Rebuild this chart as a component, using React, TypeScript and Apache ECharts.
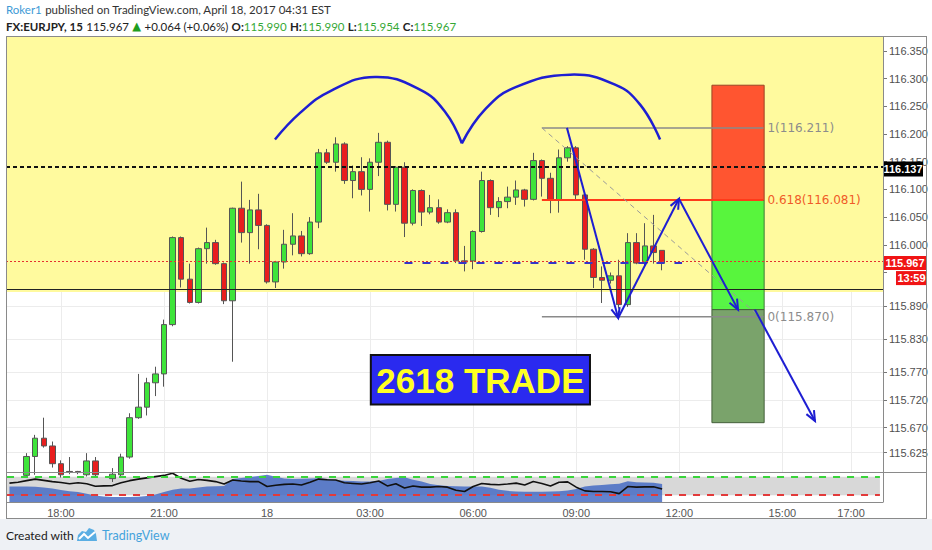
import React, { useEffect, useRef } from "react";
import * as echarts from "echarts";

// 15-minute bars, first bar Apr 17 16:30 (x axis in hours since Apr 17 00:00)
const firstBarHour = 16.5;
const barHours = 0.25;

const opens = [
  115.572, 115.578, 115.584, 115.618, 115.651, 115.637, 115.605, 115.591, 115.591, 115.585,
  115.61, 115.584, 115.578, 115.585, 115.617, 115.688, 115.707, 115.751, 115.767, 115.856,
  116.013, 115.938, 115.896, 115.993, 116.004, 115.966, 115.899, 116.066, 116.022, 116.063,
  116.035, 115.933, 115.969, 116.001, 116.016, 115.984, 116.041, 116.166, 116.149, 116.182,
  116.116, 116.132, 116.1, 116.149, 116.185, 116.073, 116.14, 116.039, 116.098, 116.059,
  116.067, 116.041, 116.058, 115.971, 115.971, 116.024, 116.116, 116.067, 116.078, 116.086,
  116.099, 116.082, 116.152, 116.12, 116.081, 116.157, 116.175, 116.09, 115.992, 115.941,
  115.936, 115.944, 115.892, 116.004, 115.967, 115.998, 115.99,
];
const closes = [
  115.578, 115.584, 115.618, 115.651, 115.637, 115.605, 115.585, 115.59, 115.589, 115.61,
  115.585, 115.578, 115.586, 115.617, 115.688, 115.707, 115.751, 115.767, 115.856, 116.013,
  115.938, 115.896, 115.993, 116.004, 115.966, 115.899, 116.066, 116.022, 116.063, 116.035,
  115.933, 115.969, 116.001, 116.016, 115.984, 116.041, 116.166, 116.149, 116.182, 116.116,
  116.132, 116.1, 116.149, 116.185, 116.073, 116.14, 116.039, 116.098, 116.059, 116.067,
  116.041, 116.058, 115.971, 115.969, 116.024, 116.116, 116.067, 116.078, 116.086, 116.099,
  116.082, 116.152, 116.12, 116.081, 116.157, 116.175, 116.09, 115.992, 115.941, 115.936,
  115.944, 115.892, 116.004, 115.967, 115.998, 115.986, 115.967,
];
const lows = [
  115.566, 115.574, 115.58, 115.585, 115.634, 115.598, 115.58, 115.586, 115.586, 115.582,
  115.582, 115.57, 115.572, 115.582, 115.614, 115.686, 115.692, 115.727, 115.744, 115.853,
  115.923, 115.894, 115.894, 115.966, 115.964, 115.893, 115.789, 116.004, 115.966, 115.992,
  115.93, 115.922, 115.957, 115.981, 115.979, 115.982, 116.03, 116.146, 116.132, 116.11,
  116.084, 116.089, 116.06, 116.124, 116.062, 116.06, 116.014, 116.035, 116.034, 116.055,
  116.038, 116.039, 115.967, 115.952, 115.956, 116.022, 116.054, 116.05, 116.066, 116.072,
  116.069, 116.08, 116.087, 116.057, 116.058, 116.15, 116.081, 115.973, 115.922, 115.895,
  115.93, 115.885, 115.888, 115.965, 115.96, 115.966, 115.954,
];
const highs = [
  115.584, 115.588, 115.624, 115.657, 115.688, 115.645, 115.611, 115.617, 115.592, 115.624,
  115.617, 115.588, 115.597, 115.623, 115.696, 115.767, 115.76, 115.78, 115.865, 116.015,
  116.015, 115.966, 115.995, 116.031, 116.009, 115.968, 116.067, 116.114, 116.081, 116.092,
  116.037, 115.971, 116.027, 116.057, 116.025, 116.05, 116.173, 116.173, 116.194, 116.185,
  116.143, 116.158, 116.156, 116.202, 116.188, 116.142, 116.149, 116.1, 116.1, 116.09,
  116.082, 116.064, 116.064, 115.998, 116.026, 116.132, 116.118, 116.086, 116.105, 116.116,
  116.101, 116.166, 116.154, 116.13, 116.172, 116.178, 116.178, 116.092, 115.994, 115.961,
  115.95, 115.973, 116.021, 116.021, 116.039, 116.054, 115.99,
];

// lower pane oscillator
const oscLine = [
  59, 62, 67, 72, 68, 64, 61, 57, 60, 57,
  49, 50, 51, 60, 67, 72, 76, 80, 84, 91,
  75, 65, 71, 68, 64, 56, 69, 66, 64, 64,
  48, 52, 55, 56, 53, 62, 72, 70, 69, 60,
  58, 56, 60, 66, 50, 57, 43, 50, 46, 46,
  48, 46, 36, 32, 48, 58, 55, 54, 56, 59,
  53, 64, 58, 50, 62, 63, 46, 34, 32, 32,
  31, 25, 48, 46, 47, 47, 40,
];
const oscArea = [
  48, 48, 48, 47, 45, 42, 37, 33, 30, 25,
  19, 16, 14, 14, 14, 15, 17, 22, 30, 38,
  42, 42, 45, 48, 49, 50, 72, 76, 79, 82,
  86, 80, 74, 72, 73, 74, 75, 72, 69, 67,
  66, 64, 64, 66, 72, 76, 78, 70, 64, 56,
  52, 50, 49, 48, 48, 48, 44, 38, 34, 32,
  31, 31, 31, 32, 33, 35, 40, 48, 51, 53,
  55, 57, 65, 62, 61, 60, 56,
];
const oscUpper = 80;
const oscLower = 20;

const priceTicks = [115.625, 115.67, 115.72, 115.77, 115.83, 115.89, 115.95, 116.0, 116.05, 116.1, 116.15, 116.2, 116.25, 116.3, 116.35];
const priceLabels = [115.625, 115.67, 115.72, 115.77, 115.83, 115.89, 116.0, 116.05, 116.1, 116.15, 116.2, 116.25, 116.3, 116.35];
const timeTicks = [18, 21, 24, 27, 30, 33, 36, 39, 41];
const timeLabels = ["18:00", "21:00", "18", "03:00", "06:00", "09:00", "12:00", "15:00", "17:00"];

const lastPrice = 115.967;
const countdown = "13:59";
const resistance = 116.137;
const zoneFloor = 115.915;

// drawings, in (hour, price)
const fibLevels = [
  { ratio: "1", price: 116.211 },
  { ratio: "0.618", price: 116.081 },
  { ratio: "0", price: 115.87 },
];
const fibFrom = 32.0;
const fibTo = 38.45;
const fibDiagEnd = 38.35;
const arcLeft = [[24.23, 116.19], [24.96, 116.238], [25.83, 116.277], [27.14, 116.303], [28.45, 116.28], [29.18, 116.24], [29.67, 116.183]];
const arcRight = [[29.67, 116.183], [30.34, 116.244], [31.22, 116.284], [32.82, 116.307], [34.13, 116.289], [34.86, 116.253], [35.44, 116.19]];
const arrowLegs = [
  [32.73, 116.211, 34.22, 115.868],
  [34.22, 115.868, 35.99, 116.083],
  [35.99, 116.083, 37.71, 115.883],
  [38.2, 115.883, 39.95, 115.682],
];
const dashFrom = 28.0;
const dashTo = 36.08;
const positionTimes = [36.95, 38.47];
const positionPrices = [116.288, 116.08, 115.883, 115.679];
const tradeBox = { text: "2618 TRADE", t0: 27.02, t1: 33.4, p0: 115.801, p1: 115.712 };

const barTimes = opens.map((_, i) => firstBarHour + i * barHours);

export default function App() {
  const ref = useRef<HTMLDivElement>(null);
  useEffect(() => {
    const chart = echarts.init(ref.current!, null, { renderer: "svg" });
    const axisFont = "Liberation Sans";
    const arrowHead = (s: number[], e: number[]) => {
      const dx = e[0] - s[0], dy = e[1] - s[1];
      const L = Math.hypot(dx, dy);
      const ux = dx / L, uy = dy / L;
      const len = 11;
      const w = (a: number) => [
        e[0] - len * (ux * Math.cos(a) - uy * Math.sin(a)),
        e[1] - len * (uy * Math.cos(a) + ux * Math.sin(a)),
      ];
      return [w(0.4), e, w(-0.4)];
    };

    const option: any = {
      animation: false,
      backgroundColor: "#ffffff",
      grid: [
        { left: 6, top: 37, width: 877, height: 435 },
        { left: 6, top: 472, width: 877, height: 30 },
      ],
      xAxis: [
        {
          type: "value", gridIndex: 0, min: 16.4, max: 41.93,
          axisLine: { show: false }, axisLabel: { show: false },
          axisTick: { show: false, customValues: timeTicks },
          splitLine: { show: true, lineStyle: { color: "#ececec", width: 1 } },
        },
        {
          type: "value", gridIndex: 1, min: 16.4, max: 41.93,
          axisLine: { show: false },
          axisTick: { show: false, customValues: timeTicks },
          splitLine: { show: false },
          axisLabel: {
            customValues: timeTicks, margin: 5, color: "#555", fontSize: 11, fontFamily: axisFont,
            formatter: (v: number) => {
              const k = timeTicks.findIndex((x) => Math.abs(x - v) < 1e-6);
              return k >= 0 ? timeLabels[k] : "";
            },
          },
        },
      ],
      yAxis: [
        {
          type: "value", gridIndex: 0, position: "right", min: 115.59, max: 116.375,
          axisLine: { show: false },
          axisTick: { show: true, length: 4, customValues: priceTicks, lineStyle: { color: "#777" } },
          axisLabel: {
            customValues: priceLabels, margin: 6, color: "#505050", fontSize: 11, fontFamily: axisFont,
            formatter: (v: number) => v.toFixed(3),
          },
          splitLine: { show: true, lineStyle: { color: "#ececec", width: 1 } },
        },
        {
          type: "value", gridIndex: 1, position: "right", min: -2, max: 95,
          axisLine: { show: false }, axisTick: { show: false }, axisLabel: { show: false },
          splitLine: { show: false },
        },
      ],
      series: [
        {
          type: "candlestick", xAxisIndex: 0, yAxisIndex: 0, z: 2,
          barWidth: 6, silent: true,
          encode: { x: 0, y: [1, 2, 3, 4] },
          data: barTimes.map((t, i) => [t, opens[i], closes[i], lows[i], highs[i]]),
          itemStyle: {
            color: "#3ee43a", color0: "#e81e1e",
            borderColor: "#555555", borderColor0: "#555555", borderWidth: 1,
          },
          markArea: {
            silent: true,
            itemStyle: { color: "#fffa9e", opacity: 1 },
            data: [[{ yAxis: zoneFloor }, { yAxis: 116.375 }]],
          },
          markLine: {
            silent: true, symbol: ["none", "none"], label: { show: false },
            data: [
              { yAxis: zoneFloor, lineStyle: { color: "#222", width: 1, type: "solid" } },
              { yAxis: resistance, lineStyle: { color: "#111", width: 2, type: [4, 3] } },
              { yAxis: lastPrice, lineStyle: { color: "#e53030", width: 1, type: [2, 2] } },
            ],
          },
        },
        {
          type: "custom", coordinateSystem: "cartesian2d", xAxisIndex: 0, yAxisIndex: 0,
          z: 4, silent: true, clip: false, data: [0],
          renderItem: (params: any, api: any) => {
            const c = (t: number, p: number) => api.coord([t, p]);
            const ch: any[] = [];
            const d0 = c(dashFrom, lastPrice), d1 = c(dashTo, lastPrice);
            ch.push({ type: "line", shape: { x1: d0[0], y1: d0[1], x2: d1[0], y2: d1[1] }, style: { stroke: "#3535c8", lineWidth: 2, lineDash: [8, 10] } });
            const x0 = c(positionTimes[0], 0)[0], x1 = c(positionTimes[1], 0)[0];
            const ys = positionPrices.map((p) => c(positionTimes[0], p)[1]);
            ch.push({ type: "rect", shape: { x: x0, y: ys[0], width: x1 - x0, height: ys[1] - ys[0] }, style: { fill: "#ff5530", stroke: "#9a4424", lineWidth: 1 } });
            ch.push({ type: "rect", shape: { x: x0, y: ys[1], width: x1 - x0, height: ys[2] - ys[1] }, style: { fill: "rgba(70,244,50,0.9)", stroke: "#3d7a35", lineWidth: 1 } });
            ch.push({ type: "rect", shape: { x: x0, y: ys[2], width: x1 - x0, height: ys[3] - ys[2] }, style: { fill: "#7aa36b", stroke: "#44603a", lineWidth: 1 } });
            fibLevels.forEach((f) => {
              const a = c(fibFrom, f.price), b = c(fibTo, f.price);
              const red = f.ratio === "0.618";
              ch.push({ type: "line", shape: { x1: a[0], y1: a[1], x2: b[0], y2: b[1] }, style: { stroke: red ? "#ff3a1a" : "#8a8a8a", lineWidth: red ? 2 : 1.5 } });
              ch.push({
                type: "text", x: b[0] + 4, y: b[1],
                style: { text: `${f.ratio}(${f.price.toFixed(3)})`, fill: red ? "#f05a28" : "#8c8c8c", font: '12px "DejaVu Sans"', align: "left", verticalAlign: "middle" },
              });
            });
            const g0 = c(fibFrom, fibLevels[0].price), g1 = c(fibDiagEnd, fibLevels[2].price);
            ch.push({ type: "line", shape: { x1: g0[0], y1: g0[1], x2: g1[0], y2: g1[1] }, style: { stroke: "#9a9a9a", lineWidth: 1, lineDash: [5, 4] } });
            [arcLeft, arcRight].forEach((arc) => {
              ch.push({ type: "polyline", shape: { points: arc.map((q) => c(q[0], q[1])), smooth: 0.45 }, style: { stroke: "#1e1ed2", lineWidth: 2.5, fill: null } });
            });
            arrowLegs.forEach((l) => {
              const s = c(l[0], l[1]), e = c(l[2], l[3]);
              ch.push({ type: "line", shape: { x1: s[0], y1: s[1], x2: e[0], y2: e[1] }, style: { stroke: "#1e1ed2", lineWidth: 2 } });
              ch.push({ type: "polyline", shape: { points: arrowHead(s, e) }, style: { stroke: "#1e1ed2", lineWidth: 2, fill: null } });
            });
            const r0 = c(tradeBox.t0, tradeBox.p0), r1 = c(tradeBox.t1, tradeBox.p1);
            ch.push({ type: "rect", shape: { x: r0[0], y: r0[1], width: r1[0] - r0[0], height: r1[1] - r0[1] }, style: { fill: "#2a2aef", stroke: "#111", lineWidth: 2 } });
            ch.push({ type: "text", x: (r0[0] + r1[0]) / 2, y: (r0[1] + r1[1]) / 2 + 1, style: { text: tradeBox.text, fill: "#ffff22", font: 'bold 35px "Liberation Sans"', align: "center", verticalAlign: "middle" } });
            const axisX = params.coordSys.x + params.coordSys.width;
            const yr = c(fibFrom, resistance)[1];
            const yl = c(fibFrom, lastPrice)[1];
            ch.push({ type: "rect", shape: { x: axisX, y: yr - 7.5, width: 40, height: 15 }, style: { fill: "#000" } });
            ch.push({ type: "text", x: axisX + 20, y: yr, style: { text: resistance.toFixed(3), fill: "#fff", font: 'bold 11px "Liberation Sans"', align: "center", verticalAlign: "middle" } });
            ch.push({ type: "rect", shape: { x: axisX, y: yl - 7, width: 44, height: 14 }, style: { fill: "#f01414" } });
            ch.push({ type: "text", x: axisX + 22, y: yl, style: { text: lastPrice.toFixed(3), fill: "#fff", font: 'bold 11px "Liberation Sans"', align: "center", verticalAlign: "middle" } });
            ch.push({ type: "rect", shape: { x: axisX + 13, y: yl + 8, width: 31, height: 14 }, style: { fill: "#f01414" } });
            ch.push({ type: "text", x: axisX + 28.5, y: yl + 15, style: { text: countdown, fill: "#fff", font: 'bold 11px "Liberation Sans"', align: "center", verticalAlign: "middle" } });
            return { type: "group", children: ch };
          },
        },
        {
          type: "line", xAxisIndex: 1, yAxisIndex: 1, z: 2, silent: true,
          showSymbol: false, symbol: "none",
          data: barTimes.map((t, i) => [t, oscArea[i]]),
          lineStyle: { width: 0 },
          areaStyle: { color: "rgba(70,108,196,0.85)", origin: "start", opacity: 1 },
          markArea: {
            silent: true,
            itemStyle: { color: "#d8d8d8", opacity: 1 },
            data: [[{ xAxis: 16.43, yAxis: oscLower }, { xAxis: 41.84, yAxis: oscUpper }]],
          },
          markLine: {
            silent: true, symbol: ["none", "none"], label: { show: false },
            data: [
              [{ coord: [16.43, oscUpper] }, { coord: [41.84, oscUpper], lineStyle: { color: "#39d43a", width: 2, type: [7, 7] } }],
              [{ coord: [16.43, oscLower] }, { coord: [41.84, oscLower], lineStyle: { color: "#e23a3a", width: 2, type: [7, 7] } }],
            ],
          },
        },
        {
          type: "line", xAxisIndex: 1, yAxisIndex: 1, z: 3, silent: true,
          showSymbol: false, symbol: "none",
          data: barTimes.map((t, i) => [t, oscLine[i]]),
          lineStyle: { color: "#111", width: 1.6 },
        },
      ],
      graphic: [
        { type: "rect", z: 0, shape: { x: 0, y: 519, width: 932, height: 31 }, style: { fill: "#eef1f5" } },
        { type: "line", z: 100, shape: { x1: 6.5, y1: 36.5, x2: 6.5, y2: 518.5 }, style: { stroke: "#8a8a8a", lineWidth: 1 } },
        { type: "line", z: 100, shape: { x1: 6, y1: 36.5, x2: 927, y2: 36.5 }, style: { stroke: "#8a8a8a", lineWidth: 1 } },
        { type: "line", z: 100, shape: { x1: 926.5, y1: 36.5, x2: 926.5, y2: 518.5 }, style: { stroke: "#8a8a8a", lineWidth: 1 } },
        { type: "line", z: 100, shape: { x1: 6, y1: 518.5, x2: 927, y2: 518.5 }, style: { stroke: "#8a8a8a", lineWidth: 1 } },
        { type: "line", z: 100, shape: { x1: 883.5, y1: 36.5, x2: 883.5, y2: 502.5 }, style: { stroke: "#8a8a8a", lineWidth: 1 } },
        { type: "line", z: 100, shape: { x1: 6, y1: 472.5, x2: 927, y2: 472.5 }, style: { stroke: "#8a8a8a", lineWidth: 1 } },
        { type: "line", z: 100, shape: { x1: 6, y1: 502.5, x2: 883, y2: 502.5 }, style: { stroke: "#8a8a8a", lineWidth: 1 } },
        {
          type: "text", z: 100, x: 6, y: 9,
          style: {
            text: "{u|Roker1} {t|published on TradingView.com, April 18, 2017 04:31 EST}",
            verticalAlign: "middle",
            rich: {
              u: { fill: "#3d9ad6", font: '11.5px "Lato"' },
              t: { fill: "#333", font: '11.5px "Lato"' },
            },
          },
        },
        {
          type: "text", z: 100, x: 6, y: 26,
          style: {
            text: "{b|FX:EURJPY, 15} {n|115.967} {g|▲} {n|+0.064 (+0.06%)} {b|O:}{v|115.990} {b|H:}{v|115.990} {b|L:}{v|115.954} {b|C:}{v|115.967}",
            verticalAlign: "middle",
            rich: {
              b: { fill: "#222", font: 'bold 11.5px "Lato"' },
              n: { fill: "#222", font: '11.5px "Lato"' },
              g: { fill: "#1f9e1f", font: '11.5px "DejaVu Sans"' },
              v: { fill: "#35a835", font: '11.5px "Lato"' },
            },
          },
        },
        {
          type: "text", z: 100, x: 6, y: 535,
          style: { text: "Created with", fill: "#1a1a1a", font: '12px "Lato"', verticalAlign: "middle" },
        },
        {
          type: "polygon", z: 100,
          shape: { points: [[77, 541], [78, 535], [82, 531], [86, 532], [89, 528], [94, 530], [96, 534], [97, 541]] },
          style: { fill: "#5aaee3" },
        },
        {
          type: "polyline", z: 101,
          shape: { points: [[79, 539], [84, 534], [88, 538], [95, 532]] },
          style: { stroke: "#ffffff", lineWidth: 2, fill: null },
        },
        {
          type: "text", z: 100, x: 102, y: 535,
          style: { text: "TradingView", fill: "#45a3dc", font: '12.5px "Lato"', verticalAlign: "middle" },
        },
      ],
    };
    chart.setOption(option);
    return () => chart.dispose();
  }, []);
  return <div ref={ref} style={{ position: "absolute", left: 0, top: 0, width: 932, height: 550, background: "#fff" }} />;
}
